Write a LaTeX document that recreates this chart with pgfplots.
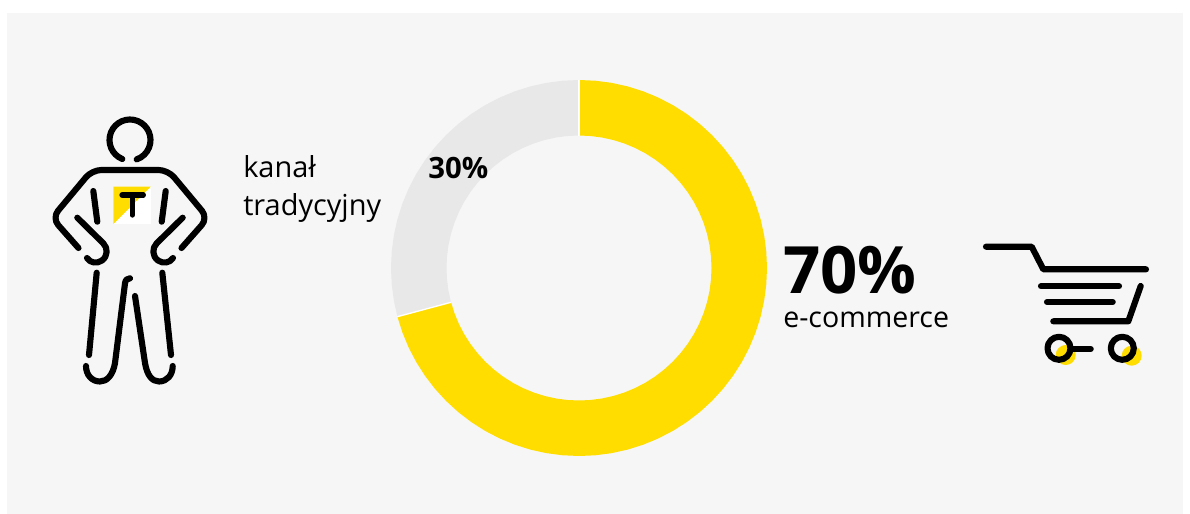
\documentclass[border=0pt]{standalone}
\usepackage{pgfplots}
\pgfplotsset{compat=1.18}
\usepackage{fontspec}
\setmainfont{Open Sans}
\definecolor{bgc}{HTML}{F6F6F6}
\definecolor{yel}{HTML}{FFDD00}
\definecolor{gry}{HTML}{E8E8E8}
\begin{document}
\begin{tikzpicture}[x=0.75pt,y=-0.75pt]
\useasboundingbox (0,0) rectangle (1190,514);
\fill[white] (0,0) rectangle (1190,514);
\fill[bgc] (7,13) rectangle (1183,514);
\begin{axis}[at={(0,-385.5pt)},anchor=south west,scale only axis,width=892.5pt,height=385.5pt,
  xmin=-579,xmax=611,ymin=-246,ymax=268,hide axis,clip=false,x=0.75pt,y=0.75pt]
% e-commerce, 70%
\addplot[fill=yel,draw=none,data cs=polar] coordinates {
(90,188)(85,188)(80,188)(75,188)(70,188)(65,188)(60,188)(55,188)(50,188)(45,188)(40,188)(35,188)(30,188)(25,188)(20,188)(15,188)(10,188)(5,188)(0,188)
(-5,188)(-10,188)(-15,188)(-20,188)(-25,188)(-30,188)(-35,188)(-40,188)(-45,188)(-50,188)(-55,188)(-60,188)(-65,188)(-70,188)(-75,188)(-80,188)(-85,188)(-90,188)
(-95,188)(-100,188)(-105,188)(-110,188)(-115,188)(-120,188)(-125,188)(-130,188)(-135,188)(-140,188)(-145,188)(-150,188)(-155,188)(-160,188)(-165,188)
(-165,132.5)(-160,132.5)(-155,132.5)(-150,132.5)(-145,132.5)(-140,132.5)(-135,132.5)(-130,132.5)(-125,132.5)(-120,132.5)(-115,132.5)(-110,132.5)(-105,132.5)(-100,132.5)(-95,132.5)
(-90,132.5)(-85,132.5)(-80,132.5)(-75,132.5)(-70,132.5)(-65,132.5)(-60,132.5)(-55,132.5)(-50,132.5)(-45,132.5)(-40,132.5)(-35,132.5)(-30,132.5)(-25,132.5)(-20,132.5)(-15,132.5)(-10,132.5)(-5,132.5)
(0,132.5)(5,132.5)(10,132.5)(15,132.5)(20,132.5)(25,132.5)(30,132.5)(35,132.5)(40,132.5)(45,132.5)(50,132.5)(55,132.5)(60,132.5)(65,132.5)(70,132.5)(75,132.5)(80,132.5)(85,132.5)(90,132.5)
} -- cycle;
% kanal tradycyjny, 30%
\addplot[fill=gry,draw=none,data cs=polar] coordinates {
(90,188)(95,188)(100,188)(105,188)(110,188)(115,188)(120,188)(125,188)(130,188)(135,188)(140,188)(145,188)(150,188)(155,188)(160,188)(165,188)(170,188)(175,188)(180,188)(185,188)(190,188)(195,188)
(195,132.5)(190,132.5)(185,132.5)(180,132.5)(175,132.5)(170,132.5)(165,132.5)(160,132.5)(155,132.5)(150,132.5)(145,132.5)(140,132.5)(135,132.5)(130,132.5)(125,132.5)(120,132.5)(115,132.5)(110,132.5)(105,132.5)(100,132.5)(95,132.5)(90,132.5)
} -- cycle;
\addplot[white,line width=1pt,data cs=polar] coordinates {(90,132.5)(90,188)};
\addplot[white,line width=1pt,data cs=polar] coordinates {(195,132.5)(195,188)};
\end{axis}
% labels
\node[anchor=base west,font=\fontsize{21.7}{26}\selectfont,inner sep=0] at (243,177.5) {kanał};
\node[anchor=base west,font=\fontsize{21.7}{26}\selectfont,inner sep=0] at (243,215.5) {tradycyjny};
\node[anchor=base west,font=\fontsize{22}{24}\selectfont\bfseries,inner sep=0] at (428,178) {30\%};
\node[anchor=base west,font=\fontsize{49}{56}\selectfont\bfseries,inner sep=0] at (783,293) {70\%};
\node[anchor=base west,font=\fontsize{21.4}{26}\selectfont,inner sep=0] at (783,327.5) {e-commerce};
% person icon
\begin{scope}[line width=4.6pt,line cap=round,line join=round,black]
\draw (130,140) ++(112:20.5) arc[start angle=112,end angle=431,radius=20.5];
\fill[white] (113.3,186.7) rectangle (150.7,224);
\fill[yel] (113.3,186.7) -- (150.7,186.7) -- (113.3,224) -- cycle;
\draw[line width=4pt] (122,195) -- (143.3,195) (132.3,195) -- (132.3,215);
\draw[rounded corners=7pt] (78.5,248) -- (52,218) -- (92,170) -- (168,170) -- (208,218) -- (181.5,248);
\draw (93.3,191) -- (97.3,221.7) (165.7,191) -- (161.7,221.7);
\draw (77.3,217.7) -- (103.3,243.3) .. controls (108,248) and (108,256) .. (102,260.5) .. controls (97,264) and (90,263) .. (87,258);
\draw (182.7,217.7) -- (156.7,243.3) .. controls (152,248) and (152,256) .. (158,260.5) .. controls (163,264) and (170,263) .. (173,258);
\draw (96.7,272.7) -- (89,355);
\draw (162.3,272.7) -- (171,355);
\draw (130,278.3) .. controls (127,278.3) and (125.5,280) .. (125,283.3) -- (115,363) .. controls (113,375) and (107,381.5) .. (100,381.5) .. controls (92,381.5) and (86,375) .. (86,366);
\draw (135,296) -- (145,363) .. controls (147,375) and (152,381.5) .. (159,381.5) .. controls (167,381.5) and (172.7,375) .. (172.7,366);
\end{scope}
% cart icon
\begin{scope}[line width=4.6pt,line cap=round,line join=round,black]
\fill[yel] (1065.7,355) circle[radius=10];
\fill[yel] (1131.7,355.7) circle[radius=10];
\draw (986,246.7) -- (1031.7,246.7) -- (1043.3,269.3) -- (1146,269.3);
\draw (1041,286.3) -- (1119,286.3);
\draw (1047,302) -- (1112.7,302);
\draw (1053.3,321.3) -- (1128.3,321.3) -- (1140.7,286);
\draw (1059,348.3) circle[radius=11.5];
\draw (1122.3,348.3) circle[radius=11.5];
\draw (1071,349) -- (1090.7,349);
\end{scope}
\end{tikzpicture}
\end{document}
